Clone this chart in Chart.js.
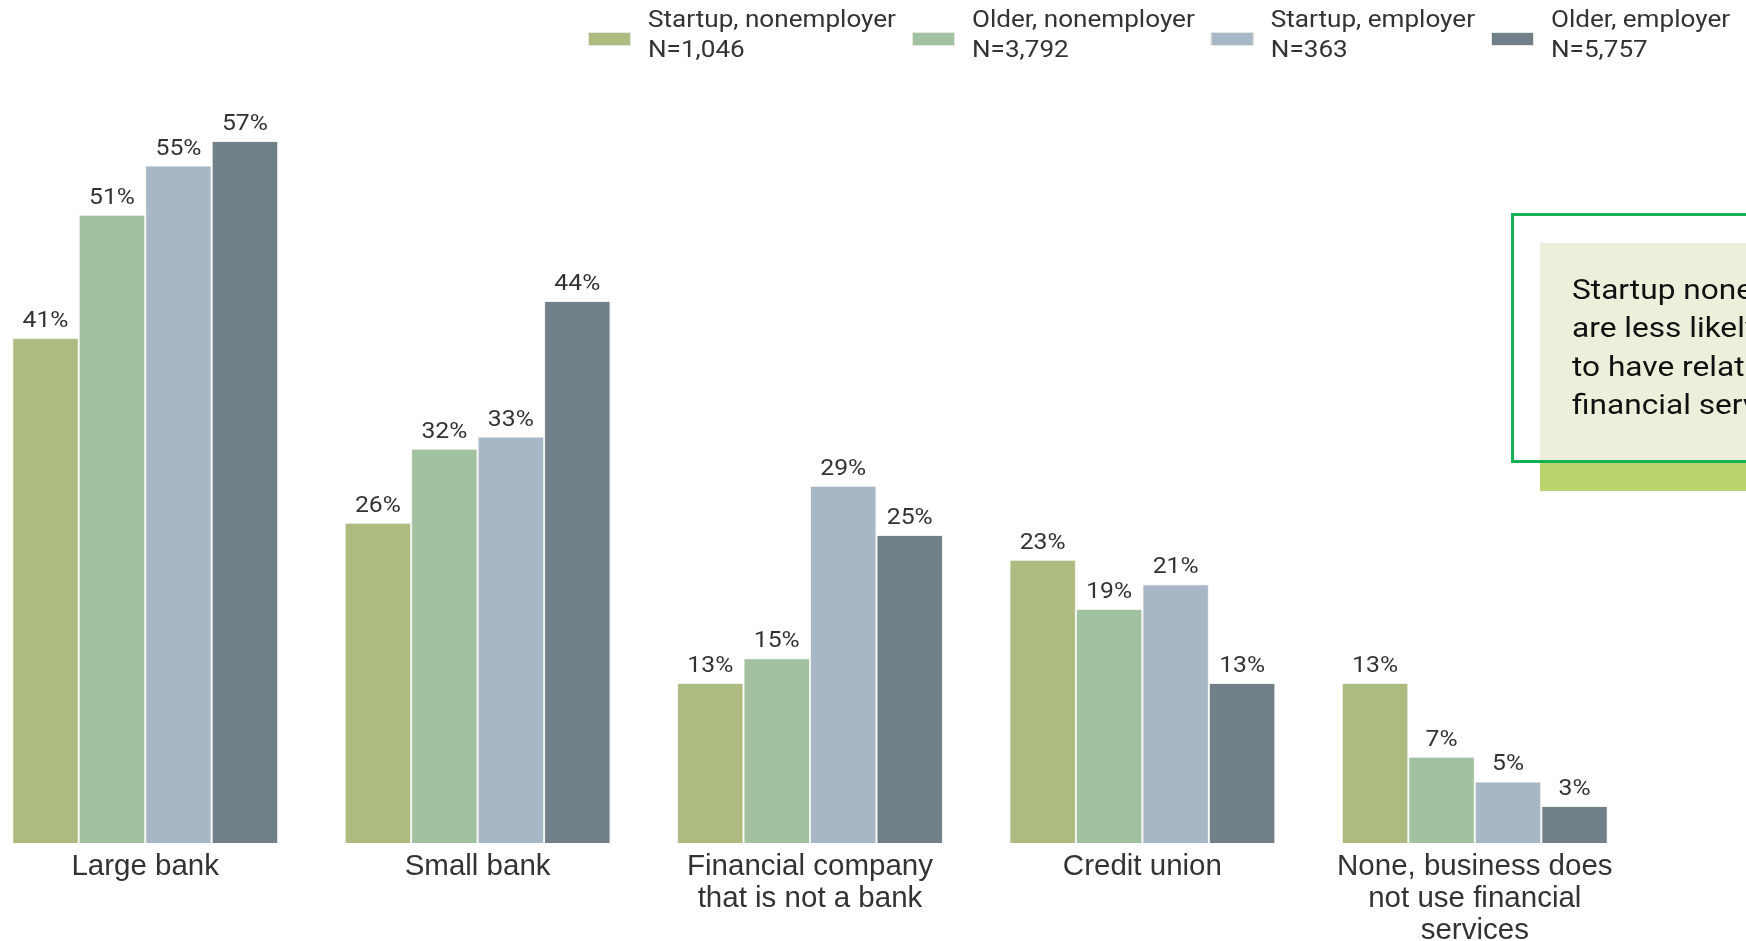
<!DOCTYPE html>
<html>
<head>
<meta charset="utf-8">
<script src="https://cdn.jsdelivr.net/npm/chart.js@4/dist/chart.umd.min.js"></script>
<style>
  html, body { margin: 0; padding: 0; width: 1746px; height: 941px; overflow: hidden; background: #fff; }
  #wrap { position: absolute; left: -21px; top: 0; width: 1790px; height: 941px; }
  .note-fill { position: absolute; left: 1540px; top: 243px; width: 260px; height: 220px; background: #ecf0da; z-index: 1; }
  .note-band { position: absolute; left: 1540px; top: 463px; width: 260px; height: 28px; background: #bad36b; z-index: 1; }
  .note-frame { position: absolute; left: 1511px; top: 213px; width: 300px; height: 250px; border: 3px solid #17b155; box-sizing: border-box; z-index: 3; }
  .note-text { position: absolute; left: 1572px; top: 271px; font: 28px Roboto, sans-serif; line-height: 38.3px; color: #111;
               white-space: nowrap; z-index: 2; transform: scaleX(1.13); transform-origin: left top; }
</style>
</head>
<body>
<div id="wrap"><canvas id="chart" width="1790" height="941"></canvas></div>
<div class="note-fill"></div>
<div class="note-band"></div>
<div class="note-text">Startup nonemployers<br>are less likely than others<br>to have relationships with<br>financial services providers</div>
<div class="note-frame"></div>
<script>
// Categories (multi-line tick labels)
const categories = [
  ['Large bank'],
  ['Small bank'],
  ['Financial company', 'that is not a bank'],
  ['Credit union'],
  ['None, business does', 'not use financial', 'services']
];

// Share of firms (%) by business type
const startupNonemployer = [41, 26, 13, 23, 13];
const olderNonemployer   = [51, 32, 15, 19, 7];
const startupEmployer    = [55, 33, 29, 21, 5];
const olderEmployer      = [57, 44, 25, 13, 3];

const seriesNames = ['Startup, nonemployer', 'Older, nonemployer', 'Startup, employer', 'Older, employer'];
const sampleSizes = ['1,046', '3,792', '363', '5,757'];
const seriesColors = ['#adbb80', '#a1c1a0', '#a8b7c5', '#717f88'];

const seriesValues = [startupNonemployer, olderNonemployer, startupEmployer, olderEmployer];

const TEXT = '#333333';
const LEGEND_WIDEN = 1.135; // slight horizontal widening of the legend text

// Percent labels above every bar
const valueLabels = {
  id: 'valueLabels',
  afterDatasetsDraw(chart) {
    const ctx = chart.ctx;
    chart.data.datasets.forEach((ds, i) => {
      chart.getDatasetMeta(i).data.forEach((bar, j) => {
        ctx.save();
        ctx.translate(bar.x, bar.y - 11);
        ctx.scale(1.1, 1);
        ctx.font = '22.5px Roboto';
        ctx.fillStyle = TEXT;
        ctx.textAlign = 'center';
        ctx.textBaseline = 'alphabetic';
        ctx.fillText(ds.data[j] + '%', 0, 0);
        ctx.restore();
      });
    });
  }
};

// Two-line legend along the top edge
const legendRows = {
  id: 'legendRows',
  afterDraw(chart) {
    const ctx = chart.ctx;
    let x = 609;
    chart.data.datasets.forEach((ds, i) => {
      ctx.save();
      ctx.fillStyle = ds.backgroundColor;
      ctx.fillRect(x, 32, 43, 14);
      ctx.strokeStyle = '#e6e9e2';
      ctx.lineWidth = 1;
      ctx.strokeRect(x + 0.5, 32.5, 42, 13);
      ctx.restore();
      const tx = x + 60;
      const lines = [ds.label, 'N=' + sampleSizes[i]];
      let w = 0;
      ctx.font = '23px Roboto';
      lines.forEach((t, k) => {
        ctx.save();
        ctx.translate(tx, 27 + k * 29.5);
        ctx.scale(LEGEND_WIDEN, 1);
        ctx.fillStyle = TEXT;
        ctx.textAlign = 'left';
        ctx.textBaseline = 'alphabetic';
        ctx.fillText(t, 0, 0);
        ctx.restore();
        w = Math.max(w, ctx.measureText(t).width * LEGEND_WIDEN);
      });
      x = tx + w + 16;
    });
  }
};

const datasets = seriesNames.map((name, i) => ({
  label: name,
  data: seriesValues[i],
  backgroundColor: seriesColors[i],
  borderColor: 'rgba(240,243,236,0.9)',
  borderWidth: 1,
  categoryPercentage: 0.8,
  barPercentage: 1.0
}));

new Chart(document.getElementById('chart'), {
  type: 'bar',
  data: { labels: categories, datasets },
  options: {
    responsive: false,
    animation: false,
    layout: { padding: { top: 104, right: 128, left: 0, bottom: 0 } },
    plugins: { legend: { display: false }, tooltip: { enabled: false } },
    scales: {
      x: {
        grid: { display: false, drawTicks: false },
        border: { display: false },
        ticks: {
          color: TEXT,
          font: { family: '"Liberation Sans", Arial, sans-serif', size: 29.5, lineHeight: 1.08 },
          padding: 8,
          maxRotation: 0,
          autoSkip: false
        },
        afterFit(scale) { scale.height = 98; }
      },
      y: { display: false, min: 0, max: 60 }
    }
  },
  plugins: [valueLabels, legendRows]
});
</script>
</body>
</html>
